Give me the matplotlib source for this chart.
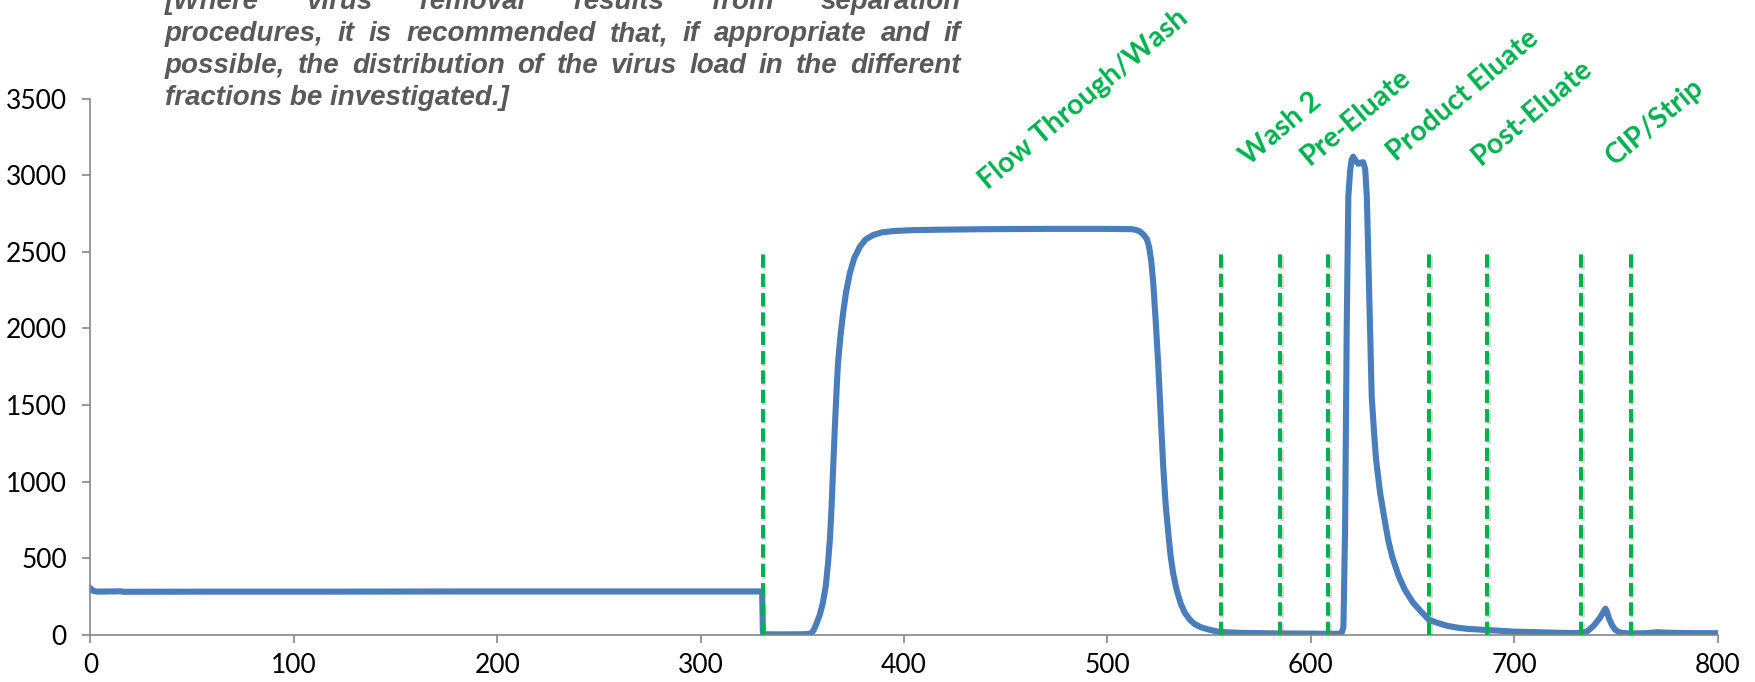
import matplotlib
matplotlib.use("Agg")
import matplotlib.pyplot as plt
import matplotlib.patheffects as pe
from matplotlib import font_manager as fm

# ── DATA ──────────────────────────────────────────────────────────────────────
trace_x = [0, 1, 3, 15, 16, 60, 120, 180, 240, 300, 330.2,
           330.6, 340, 350, 354, 355.5, 356.8, 358.5, 360, 361.5, 362.6, 363.5, 364.2,
           365, 365.9, 366.7, 367.5, 368.7, 370, 371.5, 373.3, 375.5, 378.3, 381,
           384.8, 389, 395, 405, 420, 440, 470, 500, 512,
           514.4, 516, 517.5, 519.3, 520.5, 521.5, 522.5, 523.7, 525, 526.2, 527.4,
           528.6, 529.9, 531, 532.3, 534, 536, 538, 540.6, 543, 546, 550.4, 555.3,
           565, 584.8, 600, 608.4, 614.3,
           615.3, 616.0, 616.8, 617.6, 618.4, 619.3, 620.0, 620.8, 622.0, 623.3, 624.5,
           625.7, 626.7, 627.5, 628.7, 629.9, 631, 632, 634, 636, 638, 640, 643, 646,
           650, 654, 658, 662, 667, 672, 677, 687, 700, 720, 733,
           736, 739, 742, 743.8, 744.8, 745.6, 746.5, 748, 749.5, 752, 757, 765, 770,
           778, 790, 800]
trace_y = [305, 290, 283, 285, 282, 283, 283, 284, 284, 284, 284,
           5, 4, 5, 8, 30, 70, 130, 205, 320, 468, 620, 794,
           1050, 1338, 1570, 1773, 1950, 2099, 2240, 2360, 2460, 2534, 2580,
           2610, 2627, 2636, 2642, 2645, 2648, 2650, 2650, 2648,
           2642, 2632, 2615, 2585, 2530, 2440, 2295, 2050, 1751, 1420, 1098,
           850, 663, 520, 400, 294, 205, 145, 98, 70, 50, 33, 20,
           14, 10, 9, 8, 8,
           20, 54, 685, 1990, 2860, 3030, 3100, 3121, 3095, 3075, 3082,
           3085, 3040, 2860, 2207, 1555, 1330, 1150, 930, 770, 620, 510, 390, 300,
           215, 155, 100, 80, 60, 48, 40, 32, 22, 15, 12,
           25, 60, 110, 150, 172, 150, 110, 65, 35, 15, 10, 12, 18,
           14, 12, 12]

fraction_cuts = [330.5, 555.7, 584.9, 608.6, 658.1, 686.8, 733.0, 757.2]
cut_top = 2520

fraction_names = ["Flow Through/Wash", "Wash 2", "Pre-Eluate",
                  "Product Eluate", "Post-Eluate", "CIP/Strip"]

note_lines = [
    "[Where virus removal results from separation",
    "procedures, it is recommended that, if appropriate and if",
    "possible, the distribution of the virus load in the different",
    "fractions be investigated.]",
]

# ── LAYOUT ────────────────────────────────────────────────────────────────────
W, H = 1756, 682
label_x = [441, 569.5, 599.5, 642, 683.5, 749.5]
label_y = [2904, 3060, 3060, 3086, 3060, 3060]
note_left, note_right = 165, 961          # pixels
note_base = [9, 41, 73, 105]              # baseline, pixels from top

BLUE = "#4A7EBB"
GREEN = "#00B050"
AXIS = "#868686"

# the note is set in a narrow bold italic; fall back to regular width if missing
try:
    fm.findfont(fm.FontProperties(family="Liberation Sans Narrow", style="italic",
                                  weight="bold"), fallback_to_default=False)
    note_family, note_size = "Liberation Sans Narrow", 22.5
except ValueError:
    note_family, note_size = "Liberation Sans", 20

fig = plt.figure(figsize=(W / 100, H / 100), dpi=100)
ax = fig.add_axes([90.5 / W, 1 - 635 / H, (1717.7 - 90.5) / W, (635 - 98.6) / H])

ax.plot(trace_x, trace_y, color=BLUE, lw=4.4, solid_joinstyle="round",
        solid_capstyle="round", zorder=2)

ax.vlines(fraction_cuts, 0, cut_top, colors=GREEN, linewidth=2.9,
          linestyles=(0, (3.3, 1.5)), zorder=3,
          path_effects=[pe.SimpleLineShadow(offset=(1.2, -1.2), shadow_color="gray",
                                            alpha=0.3),
                        pe.Normal()])

for name, lx, ly in zip(fraction_names, label_x, label_y):
    ax.text(lx, ly, name, rotation=40, rotation_mode="anchor", ha="left",
            va="baseline", color=GREEN, fontsize=20.5, fontweight="bold",
            family="Lato", clip_on=False, zorder=4)

ax.set_xlim(0, 800)
ax.set_ylim(0, 3500)
ax.set_xticks(range(0, 801, 100))
ax.set_yticks(range(0, 3501, 500))
for s in ["top", "right"]:
    ax.spines[s].set_visible(False)
for s in ["left", "bottom"]:
    ax.spines[s].set_color(AXIS)
    ax.spines[s].set_linewidth(1.2)
ax.tick_params(direction="out", length=6, width=1.2, color=AXIS, labelsize=19)
ax.tick_params(axis="y", pad=11)
ax.tick_params(axis="x", pad=7)
for lab in ax.get_xticklabels() + ax.get_yticklabels():
    lab.set_family("Lato")

# justified italic note at the top (first line runs off the top edge, as in the source)
renderer = fig.canvas.get_renderer()
note_style = dict(family=note_family, style="italic", weight="bold",
                  fontsize=note_size, color="#595959", va="baseline", ha="left")
for i, (line, by) in enumerate(zip(note_lines, note_base)):
    yf = 1 - by / H
    if i == len(note_lines) - 1:
        fig.text(note_left / W, yf, line, **note_style)
        continue
    words = line.split()
    texts = [fig.text(0, yf, w, **note_style) for w in words]
    widths = [t.get_window_extent(renderer).width for t in texts]
    gap = (note_right - note_left - sum(widths)) / (len(words) - 1)
    x = note_left
    for t, w in zip(texts, widths):
        t.set_x(x / W)
        x += w + gap

fig.savefig("out.png", dpi=100)
